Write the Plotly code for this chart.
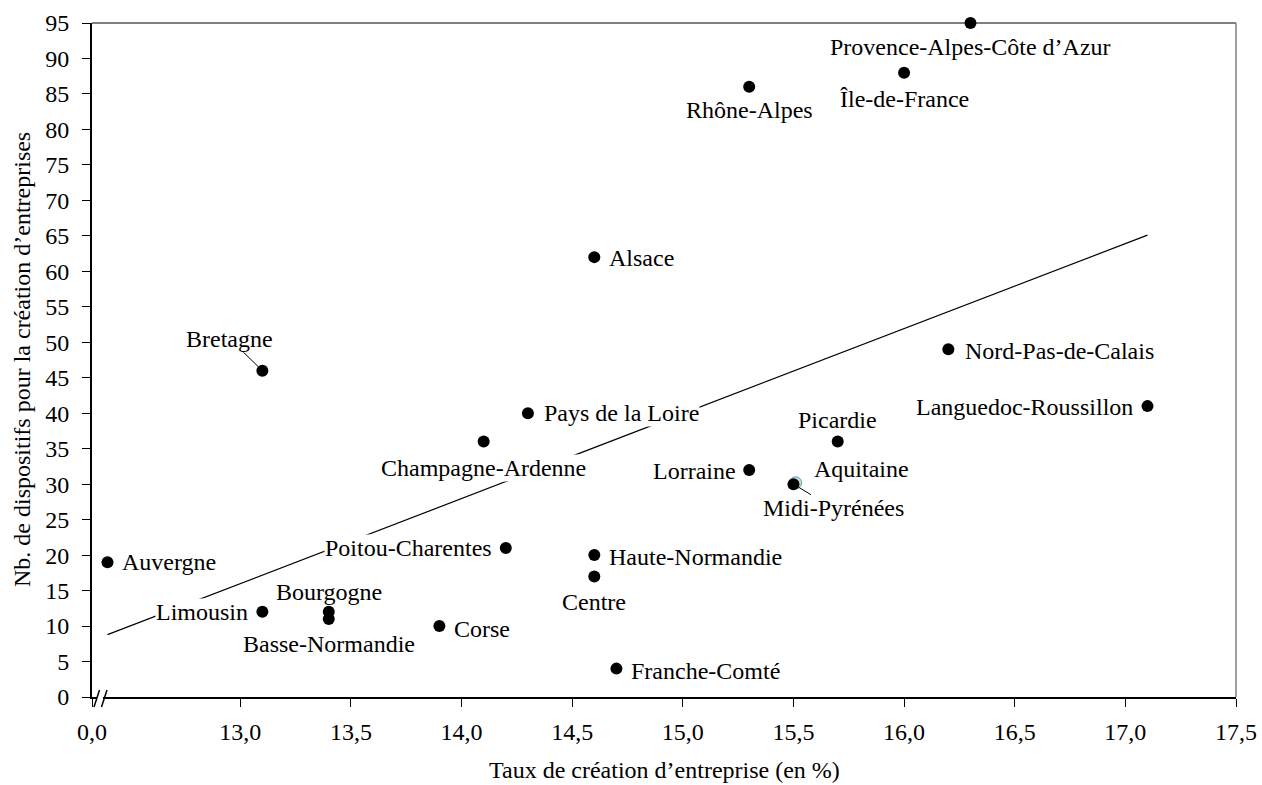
import plotly.graph_objects as go

# regions, taux de création (axe coupé : "0,0" tombe à 12,33) et nb. de dispositifs
regions = ['Auvergne', 'Limousin', 'Bourgogne', 'Basse-Normandie', 'Bretagne',
           'Poitou-Charentes', 'Champagne-Ardenne', 'Pays de la Loire', 'Alsace',
           'Rhône-Alpes', 'Provence-Alpes-Côte d’Azur', 'Île-de-France',
           'Nord-Pas-de-Calais', 'Languedoc-Roussillon', 'Picardie', 'Lorraine',
           'Midi-Pyrénées', 'Haute-Normandie', 'Centre', 'Corse', 'Franche-Comté']
taux = [12.40, 13.10, 13.40, 13.40, 13.10,
        14.20, 14.10, 14.30, 14.60,
        15.30, 16.30, 16.00,
        16.20, 17.10, 15.70, 15.30,
        15.50, 14.60, 14.60, 13.90, 14.70]
dispositifs = [19, 12, 12, 11, 46,
               21, 36, 40, 62,
               86, 95, 88,
               49, 41, 36, 32,
               30, 20, 17, 10, 4]

aquitaine_x = [15.51]
aquitaine_y = [30.2]

trend_x = [12.40, 17.10]
trend_y = [8.8, 65.1]

x_ticks = [12.33, 13.0, 13.5, 14.0, 14.5, 15.0, 15.5, 16.0, 16.5, 17.0, 17.5]
x_labels = ['0,0', '13,0', '13,5', '14,0', '14,5', '15,0', '15,5', '16,0', '16,5', '17,0', '17,5']

# label placement: anchor, x shift (px), y shift (px, down positive)
label_pos = {
    'Auvergne': ('left', 14, 0),
    'Limousin': ('right', -13, 0),
    'Bourgogne': ('center', 0, -20),
    'Basse-Normandie': ('center', 0, 25),
    'Poitou-Charentes': ('right', -13, 0),
    'Champagne-Ardenne': ('center', 0, 26),
    'Pays de la Loire': ('left', 15, 0),
    'Alsace': ('left', 14, 1),
    'Rhône-Alpes': ('center', 0, 23),
    'Provence-Alpes-Côte d’Azur': ('center', 0, 24),
    'Île-de-France': ('center', 0, 26),
    'Nord-Pas-de-Calais': ('left', 16, 2),
    'Languedoc-Roussillon': ('right', -13, 1),
    'Picardie': ('center', 0, -22),
    'Lorraine': ('right', -12, 1),
    'Haute-Normandie': ('left', 14, 2),
    'Centre': ('center', 0, 26),
    'Corse': ('left', 14, 3),
    'Franche-Comté': ('left', 14, 2),
}
leader = {'Bretagne': (-33, -32), 'Midi-Pyrénées': (40, 24)}

FONT = 'Liberation Serif'
FS = 24

fig = go.Figure()
fig.add_trace(go.Scatter(x=trend_x, y=trend_y, mode='lines',
                         line=dict(color='black', width=1.2), hoverinfo='skip'))
fig.add_trace(go.Scatter(x=aquitaine_x, y=aquitaine_y, mode='markers', cliponaxis=False,
                         marker=dict(size=12, color='#b9dce6', line=dict(color='#7a9aa3', width=1))))
fig.add_trace(go.Scatter(x=taux, y=dispositifs, mode='markers', cliponaxis=False,
                         marker=dict(size=12, color='black'), text=regions))

for name, xv, yv in zip(regions, taux, dispositifs):
    if name in leader:
        ax, ay = leader[name]
        fig.add_annotation(x=xv, y=yv, text=name, showarrow=True, arrowhead=0,
                           arrowwidth=1, arrowcolor='black', ax=ax, ay=ay, standoff=6,
                           bgcolor='white', borderpad=0)
    else:
        anc, dx, dy = label_pos[name]
        fig.add_annotation(x=xv, y=yv, text=name, showarrow=False, xanchor=anc,
                           yanchor='middle', xshift=dx, yshift=-dy,
                           bgcolor='white', borderpad=0)
fig.add_annotation(x=aquitaine_x[0], y=dispositifs[regions.index('Midi-Pyrénées')],
                   text='Aquitaine', showarrow=False, xanchor='left', yanchor='middle',
                   xshift=17, yshift=15, bgcolor='white', borderpad=0)

# plot area in pixels: left 92, right 1236, top 23, bottom 697
W, H = 1144, 674
def px(x):
    return (x - 92) / W
def py(y):
    return (697 - y) / H

# axis titles
fig.add_annotation(xref='paper', yref='paper', x=0.5, y=py(770), text='Taux de création d’entreprise (en %)',
                   showarrow=False, xanchor='center', yanchor='middle')
fig.add_annotation(xref='paper', yref='paper', x=px(22), y=0.5, text='Nb. de dispositifs pour la création d’entreprises',
                   showarrow=False, xanchor='center', yanchor='middle', textangle=-90)

shapes = [
    dict(type='line', xref='paper', yref='paper', x0=0, x1=1, y0=1, y1=1,
         line=dict(color='black', width=1)),
    dict(type='line', xref='paper', yref='paper', x0=1, x1=1, y0=0, y1=1,
         line=dict(color='#7f7f7f', width=1.5)),
    dict(type='rect', xref='paper', yref='paper', x0=px(97), x1=px(103), y0=py(699), y1=py(695),
         fillcolor='white', line=dict(width=0)),
    dict(type='line', xref='paper', yref='paper', x0=px(94), x1=px(99.5), y0=py(707), y1=py(690),
         line=dict(color='black', width=1.5)),
    dict(type='line', xref='paper', yref='paper', x0=px(101.5), x1=px(107), y0=py(707), y1=py(690),
         line=dict(color='black', width=1.5)),
]

fig.update_layout(
    width=1262, height=785,
    margin=dict(l=92, r=26, t=23, b=88),
    paper_bgcolor='white', plot_bgcolor='white',
    showlegend=False,
    font=dict(family=FONT, size=FS, color='black'),
    shapes=shapes,
)
fig.update_xaxes(range=[12.33, 17.5], tickvals=x_ticks, ticktext=x_labels, automargin=False,
                 showgrid=False, zeroline=False, showline=True, linecolor='black', linewidth=2,
                 ticks='outside', ticklen=8, tickwidth=1, tickcolor='black',
                 ticklabelstandoff=4)
fig.update_yaxes(range=[0, 95], dtick=5, tick0=0, automargin=False,
                 showgrid=False, zeroline=False, showline=True, linecolor='black', linewidth=2,
                 ticks='outside', ticklen=8, tickwidth=1, tickcolor='black',
                 ticklabelstandoff=8)

fig.write_html('out.html', post_script="document.body.style.margin='0';",
               config={'displayModeBar': False})
